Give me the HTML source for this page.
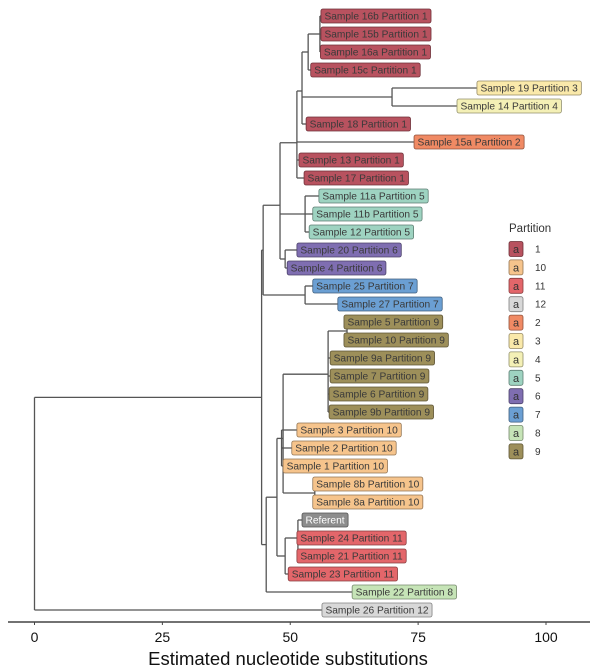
<!DOCTYPE html>
<html><head><meta charset="utf-8">
<style>
html,body{margin:0;padding:0;background:#fff;}
svg{display:block;font-family:"Liberation Sans",sans-serif;}
</style></head>
<body>
<svg id="chart" width="600" height="670" viewBox="0 0 600 670" xmlns="http://www.w3.org/2000/svg">
<g id="branches"></g>
<g id="tips"></g>
<g id="axis"></g>
<g id="legend"></g>
</svg>
<script>
// Leaves (top to bottom)
const leafLabels = ["Sample 16b Partition 1","Sample 15b Partition 1","Sample 16a Partition 1","Sample 15c Partition 1","Sample 19 Partition 3","Sample 14 Partition 4","Sample 18 Partition 1","Sample 15a Partition 2","Sample 13 Partition 1","Sample 17 Partition 1","Sample 11a Partition 5","Sample 11b Partition 5","Sample 12 Partition 5","Sample 20 Partition 6","Sample 4 Partition 6","Sample 25 Partition 7","Sample 27 Partition 7","Sample 5 Partition 9","Sample 10 Partition 9","Sample 9a Partition 9","Sample 7 Partition 9","Sample 6 Partition 9","Sample 9b Partition 9","Sample 3 Partition 10","Sample 2 Partition 10","Sample 1 Partition 10","Sample 8b Partition 10","Sample 8a Partition 10","Referent","Sample 24 Partition 11","Sample 21 Partition 11","Sample 23 Partition 11","Sample 22 Partition 8","Sample 26 Partition 12"];
const leafPartition = ["1","1","1","1","3","4","1","2","1","1","5","5","5","6","6","7","7","9","9","9","9","9","9","10","10","10","10","10","ref","11","11","11","8","12"];
const leafDist = [56.0,56.0,55.9,54.0,86.5,82.6,53.1,74.2,51.7,52.7,55.6,54.4,53.7,51.3,49.4,54.4,59.3,60.5,60.5,57.8,57.8,57.6,57.6,51.3,50.3,48.6,54.4,54.4,52.3,51.3,51.3,49.6,62.1,56.2];
// Internal nodes: distance and children ("L#" leaf, "N#" node)
const nodeDist = [0,44.4,44.7,48.0,51.3,52.3,53.5,55.8,69.9,52.9,49.0,52.9,45.3,47.4,48.6,57.4,61.1,48.3,54.8,49.0,51.5];
const nodeChildren = [
 ["N1","L33"],            // 0 root
 ["N2","N12"],            // 1 A
 ["N3","N11"],            // 2 B
 ["N4","N9","N10"],       // 3 D
 ["N5","L7","L8","L9"],   // 4 E
 ["N6","N8","L6"],        // 5 F
 ["N7","L3"],             // 6 G
 ["L0","L1","L2"],        // 7 I
 ["L4","L5"],             // 8 H
 ["L10","L11","L12"],     // 9 partition 5
 ["L13","L14"],           // 10 partition 6
 ["L15","L16"],           // 11 partition 7
 ["N13","L32"],           // 12 C
 ["N14","N19"],           // 13 K
 ["N15","N17","N18"],     // 14 L
 ["N16","L19","L20","L21","L22"], // 15 partition 9
 ["L17","L18"],           // 16
 ["L23","L24","L25"],     // 17 partition 10
 ["L26","L27"],           // 18 8a/8b
 ["N20","L31"],           // 19 M
 ["L28","L29","L30"]      // 20 Q
];
const legendKeys = ["1","10","11","12","2","3","4","5","6","7","8","9"];
const tickValues = [0,25,50,75,100];
const axisTitle = "Estimated nucleotide substitutions";

const colors = {"1":"#b8525f","10":"#f6c48c","11":"#e3666a","12":"#d8d8d8","2":"#f08a64","3":"#fae9aa","4":"#f4f0b6","5":"#9ed3c1","6":"#7f6eb1","7":"#6b9fd3","8":"#c6e4b7","9":"#9d8f5a","ref":"#8d8d8d"};
function darker(hex){const n=parseInt(hex.slice(1),16);const r=(n>>16)*0.6|0,g=((n>>8)&255)*0.6|0,b=(n&255)*0.6|0;return `rgb(${r},${g},${b})`;}
const xScale = u => 34.5 + u*5.115;
const yRow = i => 16 + i*18.0;
const NS="http://www.w3.org/2000/svg";
function mk(t,a,p){const e=document.createElementNS(NS,t);for(const k in a)e.setAttribute(k,a[k]);p.appendChild(e);return e;}
const gB=document.getElementById('branches'),gT=document.getElementById('tips'),gA=document.getElementById('axis'),gL=document.getElementById('legend');

function yOf(ref){
  const idx=+ref.slice(1);
  if(ref[0]==='L') return yRow(idx);
  const ys=nodeChildren[idx].map(yOf);
  return ys.reduce((a,b)=>a+b,0)/ys.length;
}
function xOf(ref){const idx=+ref.slice(1);return xScale(ref[0]==='L'?leafDist[idx]:nodeDist[idx]);}
function drawNode(i){
  const x=xScale(nodeDist[i]);
  const ys=nodeChildren[i].map(yOf);
  const v=mk('line',{x1:x,x2:x,y1:Math.min(...ys),y2:Math.max(...ys),stroke:'#555','stroke-width':1.3},gB);
  
  
  nodeChildren[i].forEach((c,k)=>{
    const h=mk('line',{x1:x,x2:xOf(c),y1:ys[k],y2:ys[k],stroke:'#555','stroke-width':1.3},gB);
    
    
    if(c[0]==='N') drawNode(+c.slice(1));
  });
}
// root horizontal from axis origin
drawNode(0);

leafLabels.forEach((lab,i)=>{
  const x=xScale(leafDist[i]), y=yRow(i), col=colors[leafPartition[i]];
  const g=mk('g',{},gT);
  
  
  const r=mk('rect',{x:x,y:y-7,height:14,width:10,rx:2,fill:col,stroke:darker(col),'stroke-width':0.8},g);
  const t=mk('text',{x:x+3.5,y:y+3.6,'font-size':'10.2px',fill:leafPartition[i]==='ref'?'#fff':'#3a3a3a'},g);
  t.textContent=lab;
  r.setAttribute('width',t.getComputedTextLength()+7);
});

// axis
const al=mk('line',{x1:8,x2:590,y1:622,y2:622,stroke:'#444','stroke-width':1.5},gA);


tickValues.forEach(v=>{
  const tk=mk('line',{x1:xScale(v),x2:xScale(v),y1:622,y2:625,stroke:'#444','stroke-width':1},gA);
  
  
  const t=mk('text',{x:xScale(v),y:642,'font-size':'14px','text-anchor':'middle',fill:'#111'},gA);
  
  
  t.textContent=v;
});
const at=mk('text',{x:288,y:665,'font-size':'18.5px','text-anchor':'middle',fill:'#111'},gA);


at.textContent=axisTitle;

// legend
const lt=mk('text',{x:509,y:232,'font-size':'11.5px',fill:'#333'},gL);


lt.textContent="Partition";
legendKeys.forEach((k,i)=>{
  const y=249+i*18.4, col=colors[k];
  const g=mk('g',{},gL);
  
  
  mk('rect',{x:509,y:y-7.5,width:14,height:15,rx:2,fill:col,stroke:darker(col),'stroke-width':0.8},g);
  const a=mk('text',{x:516,y:y+4,'font-size':'11px','text-anchor':'middle',fill:'#333'},g);
  a.textContent='a';
  const l=mk('text',{x:535,y:y+3.5,'font-size':'10px',fill:'#333'},g);
  l.textContent=k;
});
</script>
</body></html>
